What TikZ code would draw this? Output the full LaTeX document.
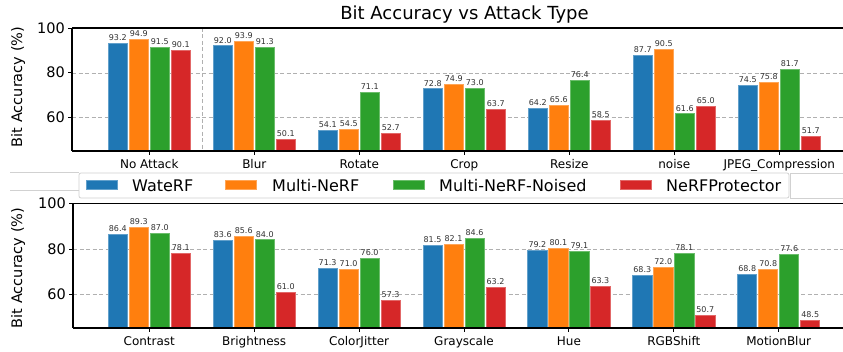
\documentclass[tikz,border=0pt]{standalone}
\usepackage{fontspec}
\setmainfont{DejaVu Sans}
\definecolor{tabblue}{HTML}{1F77B4}
\definecolor{taborange}{HTML}{FF7F0E}
\definecolor{tabgreen}{HTML}{2CA02C}
\definecolor{tabred}{HTML}{D62728}
\definecolor{gridgray}{HTML}{B0B0B0}
\tikzset{
  spine/.style={black, line width=1.1pt},
  gridline/.style={gridgray, line width=0.8pt, dash pattern=on 4pt off 2.5pt},
  valtext/.style={font=\fontsize{8}{9}\selectfont, text=black!80, inner sep=0pt, anchor=south},
  cattext/.style={font=\fontsize{12}{13}\selectfont, inner sep=0pt, anchor=base},
  ticktext/.style={font=\fontsize{14.5}{16}\selectfont, inner sep=0pt, anchor=east},
  ylab/.style={font=\fontsize{14.5}{16}\selectfont, inner sep=0pt, rotate=90},
  legtext/.style={font=\fontsize{16}{18}\selectfont, inner sep=0pt, anchor=west},
  legbox/.style={draw=black!18, line width=0.8pt, fill=white},
}
\begin{document}
\begin{tikzpicture}[x=1pt,y=-1pt]
\useasboundingbox (0,0) rectangle (843,352);
\fill[white] (0,0) rectangle (843,352);

% title
\node[font=\fontsize{18}{20}\selectfont, inner sep=0pt, anchor=base] (title) at (464.5,20) {Bit Accuracy vs Attack Type};

% ---------- top panel ----------
\draw[gridline] (72,73) -- (843,73);
\draw[gridline] (72,117.7) -- (843,117.7);
\draw[gridline] (202,28) -- (202,151);
\foreach \lab/\a/\b/\c/\d [count=\i from 0] in {
  No Attack/93.2/94.9/91.5/90.1,
  Blur/92.0/93.9/91.3/50.1,
  Rotate/54.1/54.5/71.1/52.7,
  Crop/72.8/74.9/73.0/63.7,
  Resize/64.2/65.6/76.4/58.5,
  noise/87.7/90.5/61.6/65.0,
  JPEG\_Compression/74.5/75.8/81.7/51.7}{
  \pgfmathsetmacro\cx{149.3+105*\i}
  \foreach \v/\col [count=\j from 0] in {\a/tabblue,\b/taborange,\c/tabgreen,\d/tabred}{
    \pgfmathsetmacro\bx{\cx+(\j-1.5)*21}
    \pgfmathsetmacro\yt{28+(100-\v)*2.236}
    \draw[fill=\col, draw=\col!70!white, line width=0.8pt] (\bx-9.6,151) rectangle (\bx+9.6,\yt);
    \node[valtext] (tv\i\j) at (\bx,\yt-2.5) {\v};
  }
  \draw[spine, line width=0.9pt] (\cx,151) -- (\cx,155);
  \node[cattext] (tc\i) at (\cx,169) {\lab};
}
\draw[spine] (72,28) -- (845,28);
\draw[spine] (72,28) -- (72,151.5);
\draw[spine] (72,151) -- (845,151);
\foreach \t/\yy in {100/28,80/72.7,60/117.4}{
  \draw[spine, line width=0.9pt] (68,\yy) -- (72,\yy);
  \node[ticktext] (tt\t) at (65,\yy) {\t};
}
\node[ylab] (ylabtop) at (18,87) {Bit Accuracy (\%)};

% ---------- bottom panel ----------
\draw[gridline] (73,249) -- (843,249);
\draw[gridline] (73,294.4) -- (843,294.4);
\foreach \lab/\a/\b/\c/\d [count=\i from 0] in {
  Contrast/86.4/89.3/87.0/78.1,
  Brightness/83.6/85.6/84.0/61.0,
  ColorJitter/71.3/71.0/76.0/57.3,
  Grayscale/81.5/82.1/84.6/63.2,
  Hue/79.2/80.1/79.1/63.3,
  RGBShift/68.3/72.0/78.1/50.7,
  MotionBlur/68.8/70.8/77.6/48.5}{
  \pgfmathsetmacro\cx{149.3+104.9*\i}
  \foreach \v/\col [count=\j from 0] in {\a/tabblue,\b/taborange,\c/tabgreen,\d/tabred}{
    \pgfmathsetmacro\bx{\cx+(\j-1.5)*21}
    \pgfmathsetmacro\yt{203.5+(100-\v)*2.27}
    \draw[fill=\col, draw=\col!70!white, line width=0.8pt] (\bx-9.6,328) rectangle (\bx+9.6,\yt);
    \node[valtext] (bv\i\j) at (\bx,\yt-2.5) {\v};
  }
  \draw[spine, line width=0.9pt] (\cx,328) -- (\cx,332);
  \node[cattext] (bc\i) at (\cx,346) {\lab};
}
\draw[spine] (73,203.5) -- (845,203.5);
\draw[spine] (73,203.5) -- (73,328.5);
\draw[spine] (73,328) -- (845,328);
\foreach \t/\yy in {100/203.5,80/249,60/294.4}{
  \draw[spine, line width=0.9pt] (69,\yy) -- (73,\yy);
  \node[ticktext] (bt\t) at (66,\yy) {\t};
}
\node[ylab] (ylabbot) at (18,268) {Bit Accuracy (\%)};

% ---------- legend ----------
\draw[black!18, line width=0.8pt] (10,172) -- (79,172);
\draw[black!18, line width=0.8pt] (10,190) -- (79,190);
\draw[legbox] (790,173) rectangle (846,198);
\draw[legbox, rounded corners=2pt] (79,173) rectangle (789,198);
\foreach \hx/\tx/\col/\txt in {86/132/tabblue/WateRF, 225.5/272/taborange/Multi-NeRF, 393/439/tabgreen/Multi-NeRF-Noised, 620.5/666/tabred/NeRFProtector}{
  \draw[fill=\col, draw=\col!70!white, line width=0.8pt] (\hx,180.5) rectangle (\hx+31,189.5);
  \node[legtext] (leg\col) at (\tx,185.5) {\txt};
}
\end{tikzpicture}
\end{document}
